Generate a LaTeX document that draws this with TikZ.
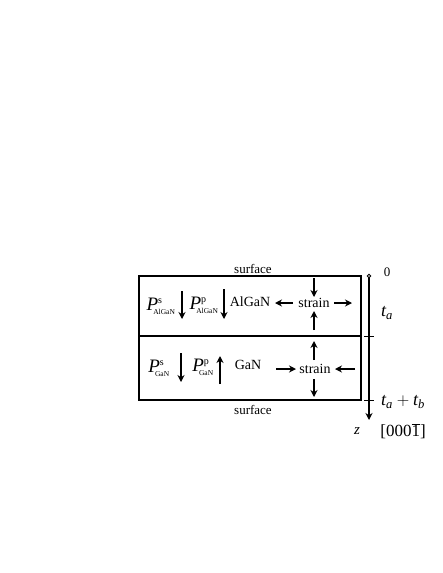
\documentclass[tikz,border=0pt]{standalone}
\usepackage{fontspec}
\setmainfont{Liberation Serif}
\usetikzlibrary{arrows.meta}
\newcommand{\polar}[2]{$\mathit{P}^{\hbox{\fontsize{10}{10}\selectfont #1}}_{\!\!\hbox{\fontsize{7.5}{8}\selectfont #2}}$}
\begin{document}
\begin{tikzpicture}[
    x=1pt, y=-1pt,
    layerbox/.style={draw=black, line width=1.4pt},
    lbl/.style={inner sep=0pt, font=\fontsize{13}{14}\selectfont},
    pol/.style={inner sep=0pt, font=\fontsize{19}{20}\selectfont},
    arr/.style={-{Stealth[length=7pt,width=7pt]}, line width=1.4pt},
    tick/.style={line width=1pt}
]
\useasboundingbox (0,0) rectangle (443,573);

% layers
\draw[layerbox] (139,276) rectangle (361,400);
\draw[layerbox] (139,336) -- (361,336);
\node[lbl] (surftop) at (253,269) {surface};
\node[lbl] (surfbot) at (253,410) {surface};

% AlGaN layer
\node[pol] (psa) at (161,306) {\polar{s}{AlGaN}};
\coordinate (psa1) at (182,291);
\coordinate (psa2) at (182,319);
\draw[arr] (psa1) -- (psa2);
\node[pol] (ppa) at (204,305) {\polar{p}{AlGaN}};
\coordinate (ppa1) at (224,289);
\coordinate (ppa2) at (224,319);
\draw[arr] (ppa1) -- (ppa2);
\node[lbl, font=\fontsize{14}{15}\selectfont] (algan) at (250,302) {AlGaN};

\node[lbl, font=\fontsize{14}{15}\selectfont] (straina) at (314,303) {strain};
\coordinate (sa1) at (293,303);
\coordinate (sa2) at (275,303);
\coordinate (sa3) at (334,303);
\coordinate (sa4) at (352,303);
\coordinate (sa5) at (314,278);
\coordinate (sa6) at (314,297);
\coordinate (sa7) at (314,330);
\coordinate (sa8) at (314,311);
\draw[arr] (sa1) -- (sa2);
\draw[arr] (sa3) -- (sa4);
\draw[arr] (sa5) -- (sa6);
\draw[arr] (sa7) -- (sa8);

% GaN layer
\node[pol] (psg) at (159,368) {\polar{s}{GaN}};
\coordinate (psg1) at (181,353);
\coordinate (psg2) at (181,382);
\draw[arr] (psg1) -- (psg2);
\node[pol] (ppg) at (203,367) {\polar{p}{GaN}};
\coordinate (ppg1) at (220,384);
\coordinate (ppg2) at (220,356);
\draw[arr] (ppg1) -- (ppg2);
\node[lbl, font=\fontsize{14}{15}\selectfont] (gan) at (248,365) {GaN};

\node[lbl, font=\fontsize{14}{15}\selectfont] (straing) at (315,369) {strain};
\coordinate (sg1) at (276,369);
\coordinate (sg2) at (296,369);
\coordinate (sg3) at (355,369);
\coordinate (sg4) at (335,369);
\coordinate (sg5) at (314,360);
\coordinate (sg6) at (314,341);
\coordinate (sg7) at (314,379);
\coordinate (sg8) at (314,397);
\draw[arr] (sg1) -- (sg2);
\draw[arr] (sg3) -- (sg4);
\draw[arr] (sg5) -- (sg6);
\draw[arr] (sg7) -- (sg8);

% depth axis
\coordinate (ztop) at (369,276);
\coordinate (zend) at (369,420);
\draw[arr] (ztop) -- (zend);
\draw[fill=white, line width=0.8pt] (ztop) circle (1.8);
\draw[tick] (364,336) -- (374,336);
\draw[tick] (364,400) -- (374,400);
\node[lbl] (zero) at (387,272) {0};
\node[lbl, font=\fontsize{18}{19}\selectfont] (ta) at (387,313) {$\mathit{t}_{\mathit{a}}$};
\node[lbl, font=\fontsize{18}{19}\selectfont] (tatb) at (403,402) {$\mathit{t}_{\mathit{a}}+\mathit{t}_{\mathit{b}}$};
\node[lbl, font=\fontsize{15}{16}\selectfont] (zlab) at (357,431) {$\mathit{z}$};
\node[lbl, font=\fontsize{17}{18}\selectfont] (dir) at (403,431) {[000$\overline{\mathrm{1}}$]};
\end{tikzpicture}
\end{document}
